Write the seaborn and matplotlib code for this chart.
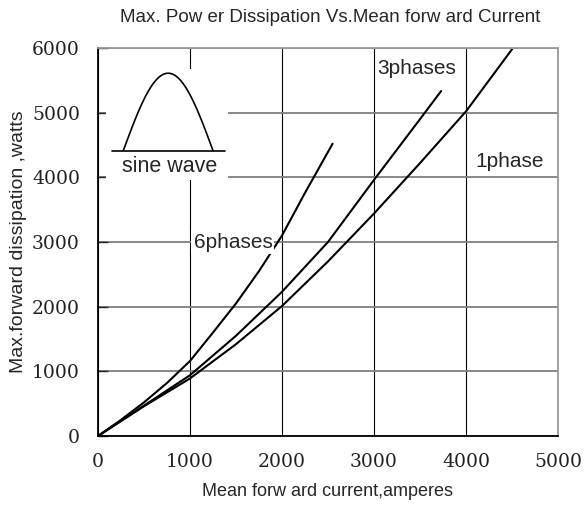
import numpy as np
import pandas as pd
import seaborn as sns
import matplotlib
matplotlib.use('Agg')
import matplotlib.pyplot as plt

# values (amperes, watts)
six_current = [0, 250, 500, 750, 1000, 1250, 1500, 1750, 2000, 2250, 2550]
six_power = [0, 250, 520, 820, 1160, 1600, 2050, 2550, 3100, 3760, 4520]

three_current = [0, 500, 1000, 1500, 2000, 2500, 3000, 3500, 3730]
three_power = [0, 470, 940, 1550, 2230, 3000, 3960, 4900, 5335]

one_current = [0, 500, 1000, 1500, 2000, 2500, 3000, 3500, 4000, 4500]
one_power = [0, 460, 890, 1420, 2010, 2700, 3440, 4220, 5020, 5980]

x_ticks = [0, 1000, 2000, 3000, 4000, 5000]
y_ticks = [0, 1000, 2000, 3000, 4000, 5000, 6000]

df = pd.concat([
    pd.DataFrame({'current': six_current, 'power': six_power, 'phase': '6phases'}),
    pd.DataFrame({'current': three_current, 'power': three_power, 'phase': '3phases'}),
    pd.DataFrame({'current': one_current, 'power': one_power, 'phase': '1phase'}),
])

sns.set_style('white')
plt.rcParams['font.family'] = ['Liberation Sans', 'DejaVu Sans']

fig = plt.figure(figsize=(5.84, 5.13), dpi=100)
ax = fig.add_axes([98 / 584, 77 / 513, 460 / 584, 388 / 513])

sns.lineplot(data=df, x='current', y='power', hue='phase', units='phase',
             estimator=None, sort=False, palette=['black'] * 3,
             linewidth=1.5, legend=False, ax=ax)

ax.set_xlim(0, 5000)
ax.set_ylim(0, 6000)
ax.set_xticks(x_ticks)
ax.set_yticks(y_ticks)
ax.set_axisbelow(True)
ax.xaxis.grid(True, color='black', linewidth=0.8)
ax.yaxis.grid(True, color='#7f7f7f', linewidth=1.3)

for side in ['left', 'bottom']:
    ax.spines[side].set_color('black')
    ax.spines[side].set_linewidth(1.3)
for side in ['top', 'right']:
    ax.spines[side].set_color('#999999')
    ax.spines[side].set_linewidth(1.3)

ax.tick_params(axis='y', direction='in', length=7, width=1, left=True, pad=13)
ax.tick_params(axis='x', direction='in', length=0, pad=12)
for lab in ax.get_xticklabels() + ax.get_yticklabels():
    lab.set_fontfamily('DejaVu Serif')
    lab.set_fontsize(13.5)
    lab.set_color('#222222')

ax.set_xlabel('Mean forw ard current,amperes', fontsize=13)
ax.xaxis.set_label_coords(0.5, -(492 - 436) / 388)
ax.set_ylabel('Max.forward dissipation ,watts', fontsize=14)
ax.yaxis.set_label_coords(-(98 - 19) / 460, 0.5)
ax.xaxis.label.set_va('center')
ax.yaxis.label.set_va('center')
fig.text(330 / 584, 1 - 18 / 513, 'Max. Pow er Dissipation Vs.Mean forw ard Current',
         ha='center', va='center', fontsize=13.5)

box = dict(boxstyle='square,pad=0.1', facecolor='white', edgecolor='none')
ax.text(1467, 3000, '6phases', ha='center', va='center', fontsize=15, bbox=box)
ax.text(3467, 5690, '3phases', ha='center', va='center', fontsize=15)
ax.text(4478, 4252, '1phase', ha='center', va='center', fontsize=15, bbox=box)

# small sine-wave sketch in the upper left corner, on a white patch
ins = ax.inset_axes([0.017, 0.66, 0.266, 0.285])
ins.set_facecolor('white')
ins.set_xlim(0, 1)
ins.set_ylim(0, 1)
ins.set_xticks([])
ins.set_yticks([])
for s in ins.spines.values():
    s.set_visible(False)
t = np.linspace(0, 1, 60)
sns.lineplot(x=0.143 + 0.733 * t, y=0.265 + 0.70 * np.sin(np.pi * t),
             color='black', linewidth=1.2, sort=False, ax=ins)
ins.plot([0.049, 0.974], [0.265, 0.265], color='black', linewidth=1.2)
ins.text(0.524, 0.12, 'sine wave', ha='center', va='center', fontsize=15.5)
ins.set_xlabel('')
ins.set_ylabel('')

fig.savefig('out.png', dpi=100)
